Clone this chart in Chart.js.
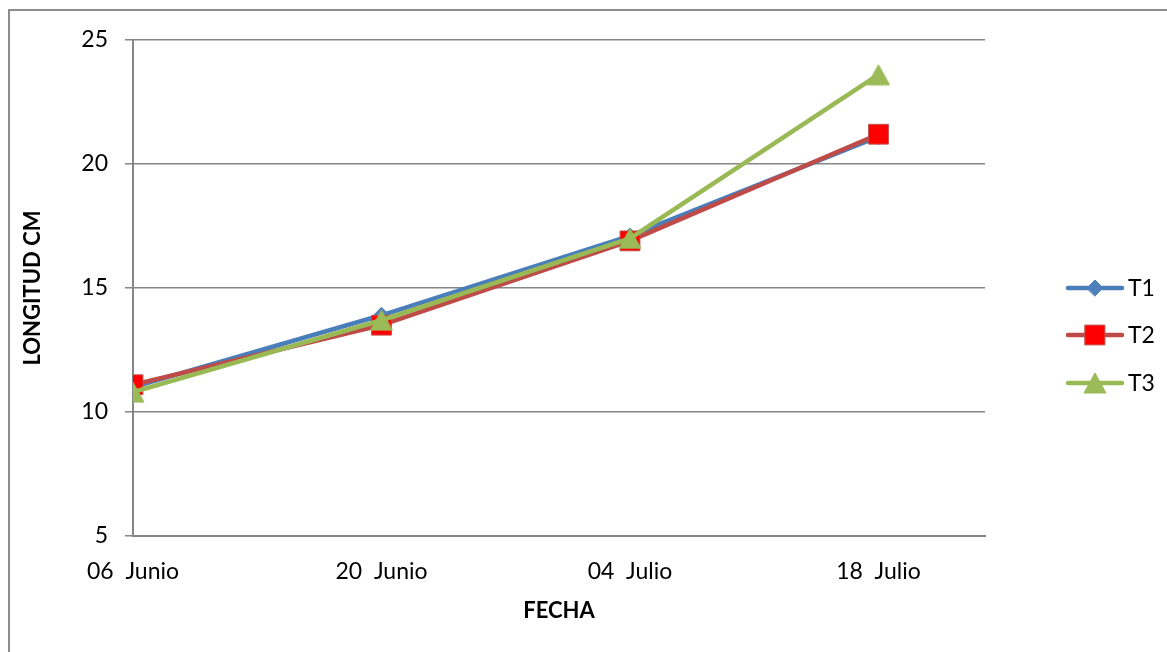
<!DOCTYPE html>
<html>
<head>
<meta charset="utf-8">
<script src="https://cdn.jsdelivr.net/npm/chart.js@4/dist/chart.umd.min.js"></script>
<style>
  html, body { margin: 0; padding: 0; background: #fff; overflow: hidden; }
  #frame { position: absolute; left: 8px; top: 9px; width: 1200px; height: 700px; border: 2px solid #8c8c8c; }
  #wrap { position: absolute; left: 0; top: 0; width: 1167px; height: 652px; }
</style>
</head>
<body>
<div id="frame"></div>
<div id="wrap"><canvas id="chart"></canvas></div>
<script>
// days since 06 Junio
const dayOffsets = [0, 14, 28, 42];
const dateLabels = ["06  Junio", "20  Junio", "04  Julio", "18  Julio"];
const seriesNames = ["T1", "T2", "T3"];
const t1 = [11.0, 13.9, 17.1, 21.1];
const t2 = [11.1, 13.5, 16.9, 21.2];
const t3 = [10.8, 13.7, 17.0, 23.6];
const yTicks = [5, 10, 15, 20, 25];

const FONT = "Lato, 'Open Sans', sans-serif";
const GRID = "#868686";

// triangle marker centred on its bounding box
function triangleMarker(fill, stroke) {
  const c = document.createElement("canvas");
  c.width = 24;
  c.height = 22;
  const g = c.getContext("2d");
  g.beginPath();
  g.moveTo(12, 1);
  g.lineTo(23, 21);
  g.lineTo(1, 21);
  g.closePath();
  g.fillStyle = fill;
  g.fill();
  g.strokeStyle = stroke;
  g.lineWidth = 1;
  g.stroke();
  return c;
}

const styles = [
  { line: "#4A7EBB", fill: "#4F81BD", border: "#4A7EBB", shape: "rectRot", radius: 8 },
  { line: "#BE4B48", fill: "#FF0000", border: "#C0504D", shape: "rect", radius: 14 },
  { line: "#98B954", fill: "#9BBB59", border: "#98B954", shape: triangleMarker("#9BBB59", "#98B954"), radius: 12 }
];

const values = [t1, t2, t3];
const datasets = values.map((vals, i) => ({
  label: seriesNames[i],
  data: vals.map((v, j) => ({ x: dayOffsets[j], y: v })),
  borderColor: styles[i].line,
  borderWidth: 4.5,
  pointStyle: styles[i].shape,
  pointRadius: styles[i].radius,
  pointHoverRadius: styles[i].radius,
  pointBackgroundColor: styles[i].fill,
  pointBorderColor: styles[i].border,
  pointBorderWidth: 1,
  tension: 0,
  order: 3 - i
}));

// legend with a line segment through each marker
const lineLegend = {
  id: "lineLegend",
  afterDraw(chart) {
    const ctx = chart.ctx;
    const rows = [288, 335, 383];
    ctx.save();
    styles.forEach((s, i) => {
      const y = rows[i];
      ctx.strokeStyle = s.line;
      ctx.lineWidth = 4.5;
      ctx.lineCap = "round";
      ctx.beginPath();
      ctx.moveTo(1068, y);
      ctx.lineTo(1122, y);
      ctx.stroke();
      ctx.fillStyle = s.fill;
      ctx.strokeStyle = s.border;
      ctx.lineWidth = 1;
      Chart.helpers.drawPoint(ctx, { pointStyle: s.shape, radius: s.radius, borderWidth: 1, rotation: 0 }, 1095, y);
      ctx.fillStyle = "#000";
      ctx.font = "23px " + FONT;
      ctx.textAlign = "left";
      ctx.textBaseline = "middle";
      ctx.fillText(seriesNames[i], 1128, y + 1);
    });
    ctx.restore();
  }
};

new Chart(document.getElementById("chart"), {
  type: "line",
  data: { datasets },
  plugins: [lineLegend],
  options: {
    responsive: true,
    maintainAspectRatio: false,
    animation: false,
    layout: { padding: { left: 0, top: 40, right: 182, bottom: 0 } },
    plugins: {
      legend: { display: false },
      tooltip: { enabled: false }
    },
    scales: {
      x: {
        type: "linear",
        min: 0,
        max: 48,
        afterBuildTicks(scale) {
          scale.ticks = dayOffsets.map(v => ({ value: v }));
        },
        afterFit(scale) { scale.height = 116; },
        grid: { display: false, drawTicks: false },
        border: { display: true, color: GRID, width: 2 },
        ticks: {
          padding: 22,
          maxRotation: 0,
          autoSkip: false,
          color: "#000",
          font: { family: FONT, size: 23 },
          callback: v => dateLabels[dayOffsets.indexOf(v)]
        },
        title: {
          display: true,
          text: "FECHA",
          color: "#000",
          font: { family: FONT, size: 22, weight: "bold" },
          padding: { top: 0, bottom: 28 }
        }
      },
      y: {
        min: 5,
        max: 25,
        afterBuildTicks(scale) {
          scale.ticks = yTicks.map(v => ({ value: v }));
        },
        afterFit(scale) { scale.width = 133; },
        grid: { color: GRID, lineWidth: 1.5, tickLength: 8 },
        border: { display: true, color: GRID, width: 2 },
        ticks: {
          padding: 17,
          color: "#000",
          font: { family: FONT, size: 23 }
        },
        title: {
          display: true,
          text: "LONGITUD CM",
          color: "#000",
          font: { family: FONT, size: 22, weight: "bold" },
          padding: { top: 20, bottom: 0 }
        }
      }
    }
  }
});
</script>
</body>
</html>
